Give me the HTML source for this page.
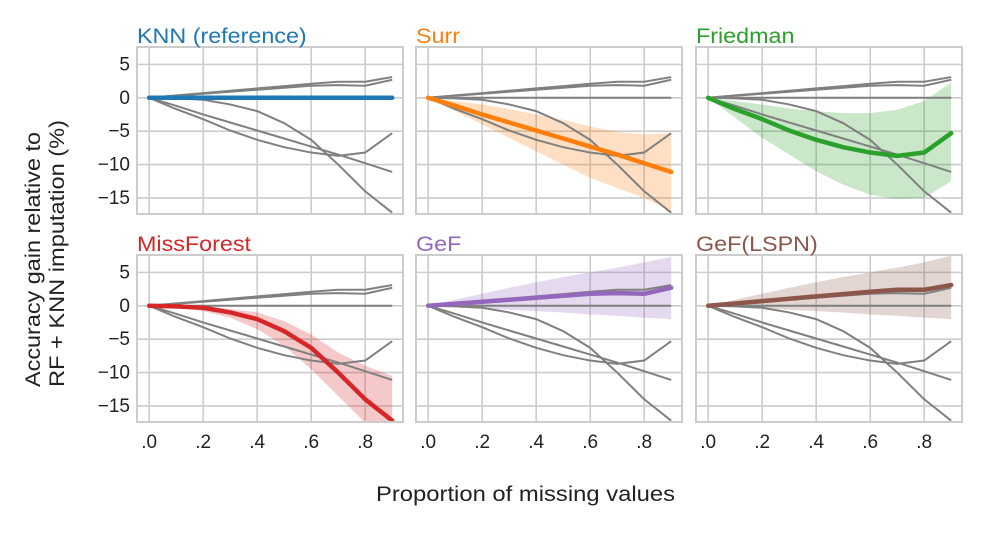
<!DOCTYPE html>
<html><head><meta charset="utf-8"><style>
body{margin:0;background:#fff}
svg text{font-family:"Liberation Sans",sans-serif}
</style></head><body>
<svg id="chart" width="988" height="531" xmlns="http://www.w3.org/2000/svg"></svg>
<script>
const xs=[0,0.1,0.2,0.3,0.4,0.5,0.6,0.7,0.8,0.9];
const methodNames=["KNN (reference)","Surr","Friedman","MissForest","GeF","GeF(LSPN)"];
const methodColors=["#1f77b4","#ff7f0e","#2ca02c","#d62728","#9467bd","#8c564b"];
const knnVals=[0,0,0,0,0,0,0,0,0,0];
const surrVals=[0,-1.2,-2.5,-3.7,-4.9,-6.1,-7.3,-8.5,-9.8,-11.1];
const friedVals=[0,-1.7,-3.2,-4.9,-6.3,-7.4,-8.2,-8.7,-8.2,-5.3];
const mfVals=[0,-0.1,-0.3,-1,-2,-3.8,-6.3,-10,-14,-17.2];
const gefVals=[0,0.3,0.6,0.9,1.2,1.5,1.8,1.9,1.8,2.7];
const lspnVals=[0,0.35,0.7,1.05,1.4,1.75,2.1,2.4,2.4,3.1];
const knnHi=null, knnLo=null;
const surrHi=[0,-0.5,-1,-1.7,-2.5,-3.3,-4.3,-5.1,-5.5,-5.3];
const surrLo=[0,-2,-4,-6,-8,-10,-12,-13.5,-15,-17];
const friedHi=[0,-0.5,-1,-1.6,-2,-2.3,-2.3,-1.8,-0.5,2.3];
const friedLo=[0,-3,-6,-8.5,-11,-13,-14.5,-15.2,-15,-12.5];
const mfHi=[0,0,0,-0.5,-1,-2.3,-4.3,-7,-9,-10.5];
const mfLo=[0,-0.3,-0.8,-1.8,-3.5,-6,-9.5,-13.5,-17.5,-20];
const gefHi=[0,0.9,1.8,2.7,3.5,4.3,5,5.7,6.5,7.3];
const gefLo=[0,-0.2,-0.4,-0.6,-0.8,-1,-1.3,-1.5,-1.8,-2];
const lspnHi=[0,0.9,1.8,2.7,3.5,4.3,5,5.7,6.5,7.5];
const lspnLo=[0,-0.2,-0.4,-0.6,-0.8,-1,-1.3,-1.5,-1.8,-2];
const xTicks=[0,0.2,0.4,0.6,0.8];
const xTickLabels=[".0",".2",".4",".6",".8"];
const yTicks=[5,0,-5,-10,-15];
const yTickLabels=["5","0","\u22125","\u221210","\u221215"];

const allVals=[knnVals,surrVals,friedVals,mfVals,gefVals,lspnVals];
const allHi=[knnHi,surrHi,friedHi,mfHi,gefHi,lspnHi];
const allLo=[knnLo,surrLo,friedLo,mfLo,gefLo,lspnLo];
const svg=document.getElementById('chart');
const NS="http://www.w3.org/2000/svg";
function mk(t,a,p){const e=document.createElementNS(NS,t);for(const k in a)e.setAttribute(k,a[k]);(p||svg).appendChild(e);return e;}
function stretch(el,f){const w=el.getComputedTextLength();el.setAttribute('textLength',w*f);el.setAttribute('lengthAdjust','spacingAndGlyphs');}
const colL=[137,416,696],rowT=[47,255],W=266,H=167;
const XMIN=-0.045,XMAX=0.94,YMIN=-17.4,YMAX=7.6;
for(let i=0;i<6;i++){
  const L=colL[i%3],T=rowT[Math.floor(i/3)];
  const sx=v=>L+(v-XMIN)/(XMAX-XMIN)*W;
  const sy=v=>T+(YMAX-v)/(YMAX-YMIN)*H;
  const g=mk('g',{});
  
  
  const cp=mk('clipPath',{id:'c'+i},g);mk('rect',{x:L,y:T,width:W,height:H},cp);
  xTicks.forEach(t=>{const l=mk('line',{x1:sx(t),x2:sx(t),y1:T,y2:T+H,stroke:'#ccc','stroke-width':1.6},g);
    });
  yTicks.forEach(t=>{const l=mk('line',{x1:L,x2:L+W,y1:sy(t),y2:sy(t),stroke:'#ccc','stroke-width':1.6},g);
    });
  const cg=mk('g',{'clip-path':'url(#c'+i+')'},g);
  if(allHi[i]){
    let d='M'+xs.map((x,k)=>sx(x)+','+sy(allHi[i][k])).join('L');
    d+='L'+xs.map((x,k)=>[x,k]).reverse().map(([x,k])=>sx(x)+','+sy(allLo[i][k])).join('L')+'Z';
    const b=mk('path',{d,fill:methodColors[i],'fill-opacity':0.25,stroke:'none'},cg);
    
  }
  for(let j=0;j<6;j++){if(j===i)continue;
    const p=mk('polyline',{points:xs.map((x,k)=>sx(x)+','+sy(allVals[j][k])).join(' '),fill:'none',stroke:'#808080','stroke-width':2},cg);
    }
  const m=mk('polyline',{points:xs.map((x,k)=>sx(x)+','+sy(allVals[i][k])).join(' '),fill:'none',stroke:methodColors[i],'stroke-width':4.5,'stroke-linecap':'round','stroke-linejoin':'round'},cg);
  
  const fr=mk('rect',{x:L,y:T,width:W,height:H,fill:'none',stroke:'#ccc','stroke-width':2},g);
  
  const ti=mk('text',{x:L,y:T-4,fill:methodColors[i],'font-size':21},g);ti.textContent=methodNames[i];
  
  stretch(ti,1.11);
  if(i%3===0) yTicks.forEach((t,k)=>{const tx=mk('text',{x:L-7,y:sy(t)+6,'text-anchor':'end','font-size':19,fill:'#222','font-family':'Liberation Serif, serif'},g);tx.textContent=yTickLabels[k];
    });
  if(i>=3) xTicks.forEach((t,k)=>{const tx=mk('text',{x:sx(t),y:T+H+26,'text-anchor':'middle','font-size':19,fill:'#222'},g);tx.textContent=xTickLabels[k];
    });
}
const yt=mk('text',{transform:'translate(40,387) rotate(-90)','text-anchor':'start','font-size':21,fill:'#222'});

const t1=mk('tspan',{x:0,dy:0,textLength:255,lengthAdjust:'spacingAndGlyphs'},yt);t1.textContent='Accuracy gain relative to';
const t2=mk('tspan',{x:0,dy:24,textLength:267,lengthAdjust:'spacingAndGlyphs'},yt);t2.textContent='RF + KNN imputation (%)';
const xt=mk('text',{x:376,y:501,'font-size':21,fill:'#222',textLength:299,lengthAdjust:'spacingAndGlyphs'});xt.textContent='Proportion of missing values';

</script>
</body></html>
